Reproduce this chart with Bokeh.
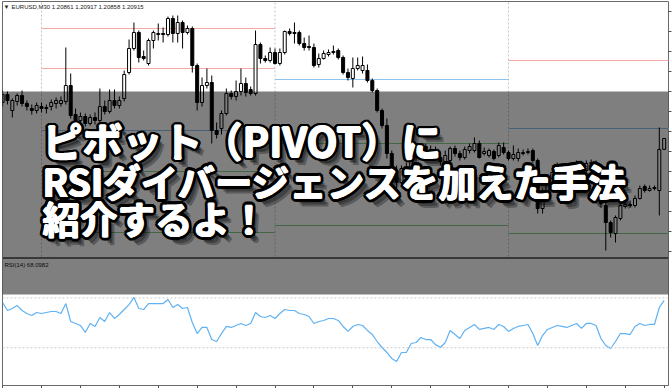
import numpy as np
from bokeh.plotting import figure
from bokeh.models import (ColumnDataSource, Range1d, LinearAxis, FixedTicker,
                          BoxAnnotation, Span, Label)
from bokeh.embed import file_html
from bokeh.resources import INLINE
from bokeh.core.properties import value

# ---------------------------------------------------------------------------
# EURUSD M30 bars; bar 0 is the first bar of the session that starts at the
# first day separator.
# ---------------------------------------------------------------------------
bars = list(range(-8, 129))

open_ = [
    1.21095, 1.21135, 1.21055, 1.21100, 1.21130, 1.21090, 1.21065, 1.21055,
    1.21075, 1.21065, 1.21075, 1.21090, 1.21090, 1.21100, 1.21180, 1.21035, 1.21005, 1.21025,
    1.20990, 1.21020, 1.21005, 1.21075, 1.21050, 1.21105, 1.21080, 1.21115, 1.21245, 1.21365,
    1.21445, 1.21325, 1.21290, 1.21405, 1.21435, 1.21440, 1.21435, 1.21515, 1.21440, 1.21495,
    1.21445, 1.21465, 1.21280, 1.21095, 1.21180, 1.21195, 1.20955, 1.20965, 1.21040, 1.21140,
    1.21125, 1.21150, 1.21190, 1.21160, 1.21140, 1.21385, 1.21315, 1.21305, 1.21345, 1.21290,
    1.21345, 1.21450, 1.21440, 1.21445, 1.21390, 1.21375, 1.21370, 1.21285, 1.21315, 1.21335,
    1.21345, 1.21355, 1.21320, 1.21245, 1.21215, 1.21265, 1.21255, 1.21255, 1.21205, 1.21155,
    1.21055, 1.20980, 1.20840, 1.20755, 1.20695, 1.20765, 1.20760, 1.20830, 1.20840, 1.20875,
    1.20860, 1.20860, 1.20820, 1.20800, 1.20805, 1.20865, 1.20840, 1.20820, 1.20855, 1.20855,
    1.20890, 1.20840, 1.20830, 1.20850, 1.20830, 1.20870, 1.20845, 1.20815, 1.20815, 1.20840,
    1.20845, 1.20855, 1.20805, 1.20565, 1.20655, 1.20715, 1.20755, 1.20775, 1.20765, 1.20760,
    1.20775, 1.20790, 1.20755, 1.20790, 1.20790, 1.20770, 1.20580, 1.20495, 1.20440, 1.20515,
    1.20575, 1.20585, 1.20580, 1.20615, 1.20675, 1.20655, 1.20665, 1.20655, 1.20861,
]
high = [
    1.21155, 1.21150, 1.21115, 1.21140, 1.21155, 1.21105, 1.21085, 1.21095,
    1.21095, 1.21085, 1.21110, 1.21120, 1.21125, 1.21370, 1.21240, 1.21065, 1.21045, 1.21040,
    1.21035, 1.21045, 1.21165, 1.21105, 1.21160, 1.21160, 1.21125, 1.21255, 1.21410, 1.21495,
    1.21455, 1.21355, 1.21415, 1.21455, 1.21490, 1.21470, 1.21525, 1.21530, 1.21530, 1.21505,
    1.21480, 1.21475, 1.21290, 1.21220, 1.21265, 1.21230, 1.20995, 1.21055, 1.21165, 1.21155,
    1.21205, 1.21265, 1.21220, 1.21175, 1.21455, 1.21395, 1.21330, 1.21370, 1.21365, 1.21365,
    1.21455, 1.21465, 1.21495, 1.21455, 1.21420, 1.21430, 1.21390, 1.21340, 1.21355, 1.21360,
    1.21380, 1.21365, 1.21330, 1.21265, 1.21320, 1.21320, 1.21325, 1.21285, 1.21215, 1.21165,
    1.21065, 1.21015, 1.20855, 1.20780, 1.20780, 1.20795, 1.20845, 1.20855, 1.20890, 1.20890,
    1.20880, 1.20875, 1.20840, 1.20855, 1.20875, 1.20880, 1.20855, 1.20875, 1.20890, 1.20920,
    1.20905, 1.20870, 1.20865, 1.20860, 1.20895, 1.20895, 1.20855, 1.20880, 1.20865, 1.20860,
    1.20865, 1.20865, 1.20815, 1.20665, 1.20730, 1.20765, 1.20795, 1.20790, 1.20785, 1.20790,
    1.20805, 1.20800, 1.20805, 1.20810, 1.20805, 1.20780, 1.20615, 1.20505, 1.20530, 1.20590,
    1.20600, 1.20605, 1.20630, 1.20680, 1.20685, 1.20680, 1.20680, 1.20970, 1.20917,
]
low = [
    1.21075, 1.21085, 1.21020, 1.21080, 1.21075, 1.21055, 1.21035, 1.21040,
    1.21045, 1.21040, 1.21055, 1.21065, 1.21075, 1.21085, 1.21015, 1.20995, 1.20985, 1.20975,
    1.20980, 1.20985, 1.20995, 1.21035, 1.21040, 1.21065, 1.21065, 1.21100, 1.21235, 1.21355,
    1.21295, 1.21305, 1.21280, 1.21365, 1.21405, 1.21395, 1.21425, 1.21395, 1.21395, 1.21365,
    1.21435, 1.21245, 1.21055, 1.21075, 1.21165, 1.20890, 1.20915, 1.20935, 1.21030, 1.21110,
    1.21105, 1.21130, 1.21125, 1.21130, 1.21130, 1.21290, 1.21295, 1.21295, 1.21285, 1.21280,
    1.21335, 1.21430, 1.21390, 1.21380, 1.21355, 1.21355, 1.21270, 1.21270, 1.21310, 1.21325,
    1.21335, 1.21310, 1.21235, 1.21205, 1.21170, 1.21255, 1.21240, 1.21195, 1.21145, 1.21045,
    1.20965, 1.20815, 1.20730, 1.20655, 1.20680, 1.20730, 1.20745, 1.20805, 1.20825, 1.20845,
    1.20840, 1.20805, 1.20780, 1.20785, 1.20790, 1.20825, 1.20805, 1.20810, 1.20840, 1.20845,
    1.20815, 1.20830, 1.20820, 1.20805, 1.20820, 1.20835, 1.20805, 1.20805, 1.20800, 1.20830,
    1.20835, 1.20795, 1.20540, 1.20540, 1.20640, 1.20705, 1.20745, 1.20755, 1.20745, 1.20750,
    1.20765, 1.20745, 1.20745, 1.20775, 1.20755, 1.20570, 1.20355, 1.20420, 1.20395, 1.20505,
    1.20565, 1.20570, 1.20570, 1.20610, 1.20645, 1.20650, 1.20655, 1.20530, 1.20858,
]
close = [
    1.21135, 1.21105, 1.21105, 1.21130, 1.21090, 1.21075, 1.21055, 1.21080,
    1.21065, 1.21070, 1.21095, 1.21105, 1.21105, 1.21180, 1.21030, 1.21005, 1.21025, 1.20990,
    1.21020, 1.21005, 1.21075, 1.21050, 1.21105, 1.21080, 1.21105, 1.21235, 1.21365, 1.21445,
    1.21320, 1.21315, 1.21405, 1.21445, 1.21440, 1.21435, 1.21515, 1.21440, 1.21495, 1.21445,
    1.21465, 1.21280, 1.21095, 1.21180, 1.21195, 1.20955, 1.20935, 1.21040, 1.21140, 1.21125,
    1.21150, 1.21190, 1.21145, 1.21140, 1.21385, 1.21315, 1.21305, 1.21345, 1.21290, 1.21345,
    1.21450, 1.21440, 1.21445, 1.21390, 1.21370, 1.21370, 1.21280, 1.21315, 1.21340, 1.21345,
    1.21350, 1.21320, 1.21245, 1.21220, 1.21265, 1.21280, 1.21280, 1.21205, 1.21155, 1.21055,
    1.20980, 1.20840, 1.20755, 1.20695, 1.20765, 1.20760, 1.20830, 1.20840, 1.20875, 1.20860,
    1.20855, 1.20820, 1.20800, 1.20830, 1.20865, 1.20840, 1.20820, 1.20860, 1.20875, 1.20890,
    1.20820, 1.20850, 1.20855, 1.20815, 1.20880, 1.20845, 1.20815, 1.20835, 1.20845, 1.20845,
    1.20850, 1.20805, 1.20565, 1.20655, 1.20715, 1.20745, 1.20775, 1.20765, 1.20760, 1.20775,
    1.20790, 1.20755, 1.20790, 1.20795, 1.20770, 1.20590, 1.20495, 1.20445, 1.20520, 1.20580,
    1.20585, 1.20580, 1.20615, 1.20665, 1.20655, 1.20665, 1.20670, 1.20860, 1.20915,
]

# RSI(14) per bar
rsi = [
    66.3, 59.9, 61.5, 63.9, 59.9, 57.5, 55.9, 58.3,
    57.5, 58.3, 59.1, 59.1, 57.5, 65.5, 51.1, 49.5, 47.9, 42.3,
    49.5, 47.1, 54.3, 51.1, 58.3, 53.5, 56.7, 60.7, 64.7, 70.4,
    61.5, 60.7, 65.5, 65.5, 65.5, 65.5, 68.8, 62.3, 64.7, 61.5,
    62.3, 50.3, 41.4, 46.3, 46.3, 36.6, 35.0, 41.4, 47.1, 46.3,
    47.9, 49.5, 47.9, 49.5, 58.3, 55.1, 54.3, 55.9, 53.5, 57.5,
    60.7, 59.9, 59.9, 57.5, 56.7, 55.1, 49.5, 51.1, 51.9, 53.5,
    53.5, 51.9, 47.1, 43.1, 47.1, 48.7, 47.9, 43.9, 40.6, 35.0,
    30.2, 26.2, 21.4, 19.0, 26.2, 26.2, 33.4, 34.2, 38.2, 36.6,
    36.6, 32.5, 30.2, 34.2, 43.9, 40.6, 37.4, 43.9, 46.3, 48.7,
    44.7, 45.5, 46.3, 44.7, 48.7, 47.1, 43.1, 45.5, 47.1, 47.9,
    48.7, 41.4, 31.8, 39.8, 44.7, 46.3, 47.9, 47.1, 46.3, 47.9,
    49.5, 45.5, 49.5, 49.5, 47.9, 37.4, 31.8, 29.4, 35.0, 41.4,
    41.4, 40.6, 47.1, 49.5, 47.9, 48.7, 48.7, 62.3, 68.0982,
]
rsi_levels = [70, 30]

# Daily pivot levels, one entry per session (first bar, last bar + 1)
day_start = [0, 48, 96]
day_end = [48, 96, 144]
pivot_r2 = [1.21465, None, None]
pivot_r1 = [1.21265, None, 1.21305]
pivot_p = [1.20955, 1.21210, 1.20965]
pivot_s1 = [1.20750, 1.20890, 1.20440]
pivot_s2 = [1.20445, 1.20480, None]

symbol = "EURUSD,M30"
title_lines = ["ピボット（PIVOT）に", "RSIダイバージェンスを加えた手法", "紹介するよ！"]

n = len(bars)
assert all(len(a) == n for a in (open_, high, low, close, rsi))

# ---------------------------------------------------------------------------
# Screen geometry: bar spacing, price scale and panel positions in pixels
# ---------------------------------------------------------------------------
W, H = 672, 388
FR_L, FR_R, FR_T, FR_B = 2, 668, 1, 385
BAR0_PX, BAR_PX = 41.0, 233.5 / 48
PRICE_Y0, PRICE_PX = 1.21605, 0.00005
RSI0_PX, RSI_PX = 384.6, 1.245


def bx(px):
    return (px - BAR0_PX) / BAR_PX


def py(px):
    return PRICE_Y0 - PRICE_PX * px


def ry(px):
    return (RSI0_PX - px) / RSI_PX


p = figure(width=W, height=H, output_backend="svg", toolbar_location=None,
           x_range=Range1d(bx(FR_L), bx(FR_R)), y_range=Range1d(py(FR_B), py(FR_T)),
           x_axis_location=None, y_axis_location=None,
           min_border_left=FR_L, min_border_right=W - FR_R,
           min_border_top=FR_T, min_border_bottom=H - FR_B,
           background_fill_color="white", border_fill_color="white",
           outline_line_color="#6a6a6a")
p.xgrid.visible = False
p.ygrid.visible = False
p.extra_y_ranges = {"rsi": Range1d(ry(FR_B), ry(FR_T))}

# tick marks only (the scale labels sit outside the window)
price_ticks = [round(v, 4) for v in np.arange(1.2035, 1.2156, 0.001)]
yax = LinearAxis(ticker=FixedTicker(ticks=price_ticks), axis_line_color=None,
                 major_tick_out=3, major_tick_in=0, minor_tick_line_color=None,
                 major_tick_line_color="#505050", major_label_text_font_size="0px",
                 major_label_standoff=0,
                 major_label_overrides={v: "" for v in price_ticks})
p.add_layout(yax, "right")
time_ticks = list(range(-8, 129, 8))
xax = LinearAxis(ticker=FixedTicker(ticks=time_ticks), axis_line_color=None,
                 major_tick_out=3, major_tick_in=0, minor_tick_line_color=None,
                 major_tick_line_color="#505050", major_label_text_font_size="0px",
                 major_label_standoff=0,
                 major_label_overrides={v: "" for v in time_ticks})
p.add_layout(xax, "below")

# day separators in the price panel
price_panel_bottom = py(256)
p.segment(x0=day_start, x1=day_start, y0=[price_panel_bottom] * 3, y1=[py(FR_T)] * 3,
          line_color="#c4c4c4", line_width=1, line_dash="2 2")

# pivot lines
def level_segments(levels):
    xs0, xs1, ys = [], [], []
    for s, e, v in zip(day_start, day_end, levels):
        if v is not None:
            xs0.append(s)
            xs1.append(e)
            ys.append(v)
    return xs0, xs1, ys


for levels, col in ((pivot_r2, "#f6aaa6"), (pivot_r1, "#f6aaa6"), (pivot_p, "#8cc3ef"),
                    (pivot_s1, "#86cf86"), (pivot_s2, "#86cf86")):
    x0, x1, yv = level_segments(levels)
    p.segment(x0=x0, x1=x1, y0=yv, y1=yv, line_color=col, line_width=1)

# candlesticks
src = ColumnDataSource(dict(
    bar=bars, high=high, low=low,
    top=[max(o, c) for o, c in zip(open_, close)],
    bottom=[min(o, c) for o, c in zip(open_, close)],
    fill=["white" if c >= o else "black" for o, c in zip(open_, close)],
))
p.segment(x0="bar", x1="bar", y0="high", y1="low", source=src, line_color="black", line_width=1)
p.vbar(x="bar", width=0.62, top="top", bottom="bottom", fill_color="fill",
       line_color="black", line_width=1, source=src)

# panel separator
p.add_layout(Span(location=py(257.5), dimension="width", line_color="#707070", line_width=2))

# RSI panel
for lv in rsi_levels:
    p.add_layout(Span(location=lv, dimension="width", y_range_name="rsi",
                      line_color="#c8c8c8", line_width=1, line_dash="2 2"))
p.line(bars, rsi, y_range_name="rsi", line_color="#5fb2f3", line_width=1.2)

# small chart captions
cap = dict(text_font="Liberation Sans", text_font_size="6px",
           text_color="#202020", text_baseline="middle")
p.add_layout(Label(x=bx(3), y=py(6), text="▼", **cap))
p.add_layout(Label(x=bx(11), y=py(6),
                   text=f"{symbol} {open_[-1]:.5f} {high[-1]:.5f} {low[-1]:.5f} {close[-1]:.5f}", **cap))
p.add_layout(Label(x=bx(4), y=py(264), text=f"RSI(14) {rsi[-1]:.4f}", **cap))

# translucent band behind the headline
p.add_layout(BoxAnnotation(top=py(91), bottom=py(294), fill_color="black", fill_alpha=0.5,
                           line_alpha=0))

# headline: soft shadow, thick black outline and heavy white fill
line_x = bx(42)
line_y = [py(139.5), py(179.5), py(216.5)]
line_size = ["40px", "37.5px", "37.5px"]
font = dict(text_font=value("Noto Sans CJK JP"), text_font_size="size",
            text_font_style=value("bold"), text_baseline=value("middle"),
            text_align=value("left"), level="overlay")


def layer(offsets):
    cols = dict(x=[], y=[], text=[], size=[], dx=[], dy=[])
    for t, yv, fs in zip(title_lines, line_y, line_size):
        for ox, oy in offsets:
            cols["x"].append(line_x)
            cols["y"].append(yv)
            cols["text"].append(t)
            cols["size"].append(fs)
            cols["dx"].append(ox)
            cols["dy"].append(oy)
    return ColumnDataSource(cols)


p.text(x="x", y="y", text="text", x_offset="dx", y_offset="dy",
       source=layer([(7, 8), (5, 6), (3.5, 4.5)]), text_color="black", text_alpha=0.3, **font)
ang = np.linspace(0, 2 * np.pi, 16, endpoint=False)
p.text(x="x", y="y", text="text", x_offset="dx", y_offset="dy",
       source=layer(list(zip(3.4 * np.cos(ang), 3.4 * np.sin(ang)))),
       text_color="black", **font)
p.text(x="x", y="y", text="text", x_offset="dx", y_offset="dy",
       source=layer([(0, 0), (0.8, 0), (-0.8, 0), (0, 0.8), (0, -0.8)]),
       text_color="white", **font)

open("out.html", "w").write(file_html(p, INLINE))
